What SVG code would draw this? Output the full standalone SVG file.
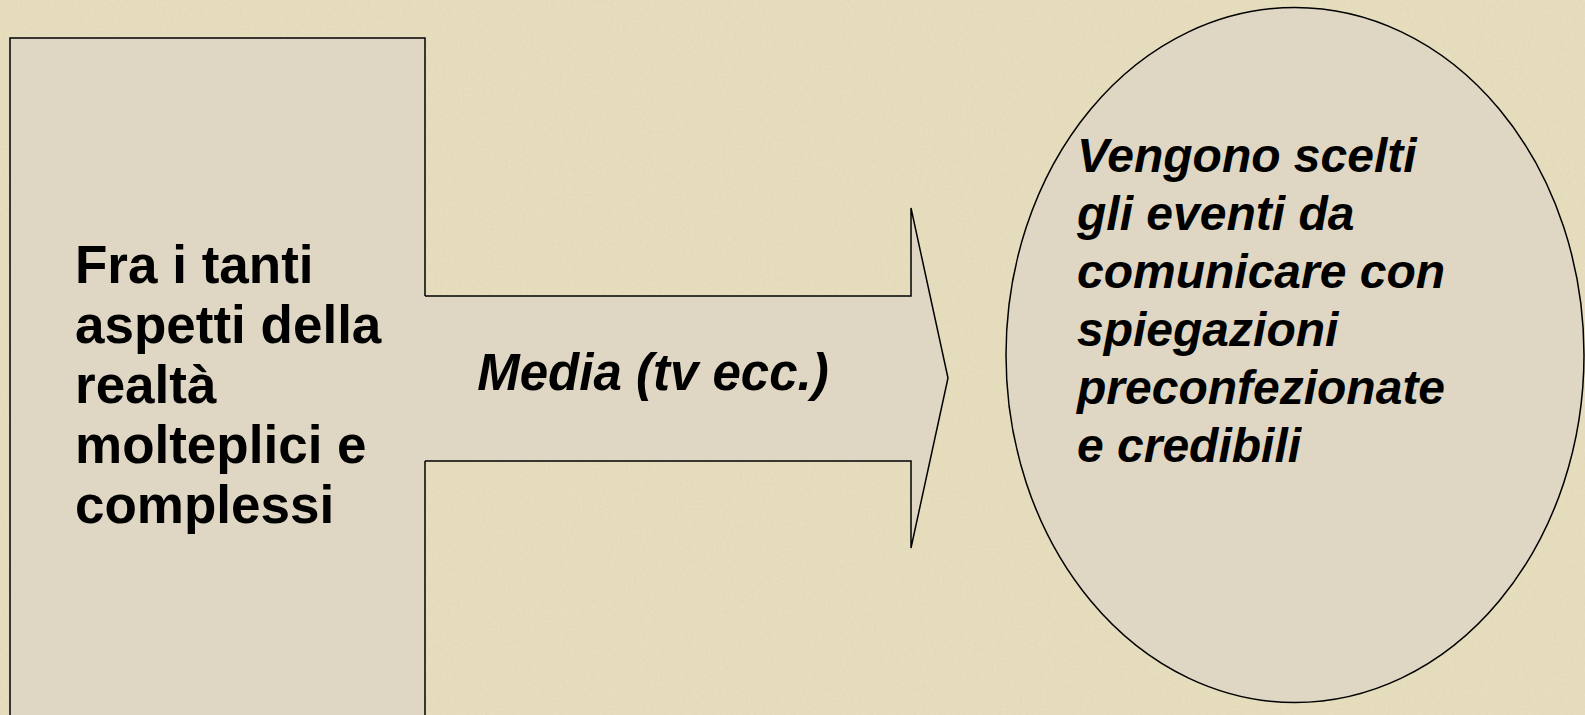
<svg xmlns="http://www.w3.org/2000/svg" width="1585" height="715" viewBox="0 0 1585 715">
  <style>
    .shape { fill: #DFD7C4; stroke: #000000; stroke-width: 1.5; }
    .fillonly { fill: #DFD7C4; stroke: none; }
    .line { fill: none; stroke: #000000; stroke-width: 1.5; stroke-linejoin: miter; }
    .bold { font-family: "Liberation Sans", Arial, sans-serif; font-weight: bold; fill: #000000; }
    .bi { font-family: "Liberation Sans", Arial, sans-serif; font-weight: bold; font-style: italic; fill: #000000; }
  </style>
  <defs>
    <filter id="paper" x="0" y="0" width="100%" height="100%">
      <feTurbulence type="fractalNoise" baseFrequency="0.35" numOctaves="3" seed="4" result="noise"/>
      <feColorMatrix in="noise" type="matrix" values="0 0 0 0 0.55  0 0 0 0 0.50  0 0 0 0 0.35  0 0 0 0.22 0" result="tint"/>
      <feComposite in="tint" in2="SourceGraphic" operator="over"/>
    </filter>
  </defs>
  <g id="background">
    <rect x="0" y="0" width="1585" height="715" fill="#E8E0BF" filter="url(#paper)"/>
  </g>
  <g id="node-reality">
    <rect class="shape" x="10" y="38" width="415" height="700"/>
    <text class="bold" font-size="53">
      <tspan x="75" y="283">Fra i tanti</tspan>
      <tspan x="75" y="343">aspetti della</tspan>
      <tspan x="75" y="403">realtà</tspan>
      <tspan x="75" y="463">molteplici e</tspan>
      <tspan x="75" y="523">complessi</tspan>
    </text>
  </g>
  <g id="connectors">
    <g id="arrow-media">
      <polygon class="fillonly" points="420,296 911,296 911,208 948,378 911,548 911,461 420,461"/>
      <polyline class="line" points="425,296 911,296 911,208 948,378 911,548 911,461 425,461"/>
      <text class="bi" font-size="51" x="653" y="390" text-anchor="middle">Media (tv ecc.)</text>
    </g>
  </g>
  <g id="node-events">
    <ellipse class="shape" cx="1295" cy="355" rx="289" ry="347.5"/>
    <text class="bi" font-size="48">
      <tspan x="1077" y="172">Vengono scelti</tspan>
      <tspan x="1077" y="230">gli eventi da</tspan>
      <tspan x="1077" y="288">comunicare con</tspan>
      <tspan x="1077" y="346">spiegazioni</tspan>
      <tspan x="1077" y="404">preconfezionate</tspan>
      <tspan x="1077" y="462">e credibili</tspan>
    </text>
  </g>
</svg>
